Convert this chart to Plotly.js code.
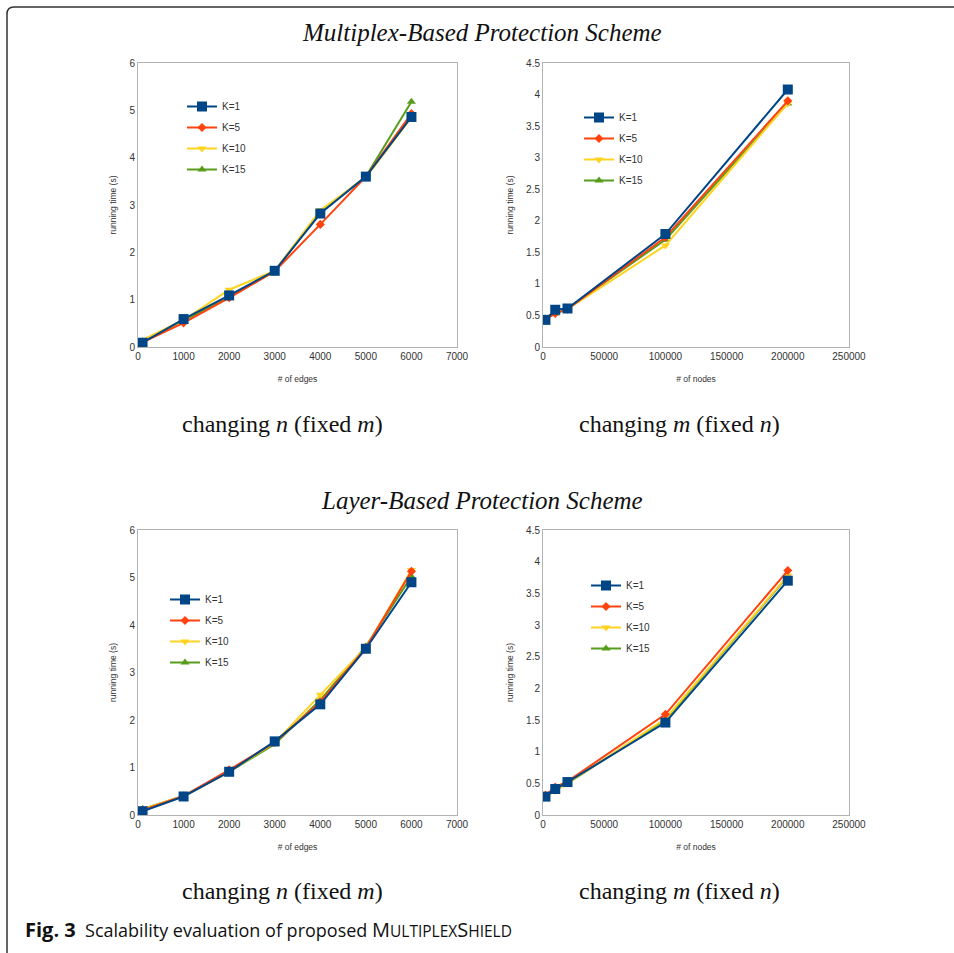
<!DOCTYPE html>
<html>
<head>
<meta charset="utf-8">
<script src="https://cdn.plot.ly/plotly-3.0.1.min.js"></script>
<style>html,body{margin:0;padding:0;background:#fff;}#chart{width:954px;height:953px;}</style>
</head>
<body>
<div id="chart"></div>
<script>
// ---------- data ----------
const seriesNames = ["K=1", "K=5", "K=10", "K=15"];
const edgesX = [100, 1000, 2000, 3000, 4000, 5000, 6000];
const nodesX = [2000, 10000, 20000, 100000, 200000];

// Multiplex-based, changing n (x = # of edges)
const mpEdgesK1  = [0.09, 0.59, 1.09, 1.61, 2.82, 3.60, 4.86];
const mpEdgesK5  = [0.10, 0.51, 1.04, 1.60, 2.59, 3.60, 4.93];
const mpEdgesK10 = [0.15, 0.57, 1.21, 1.61, 2.89, 3.58, 4.85];
const mpEdgesK15 = [0.12, 0.56, 1.05, 1.60, 2.85, 3.60, 5.18];

// Multiplex-based, changing m (x = # of nodes)
const mpNodesK1  = [0.43, 0.59, 0.61, 1.79, 4.08];
const mpNodesK5  = [0.44, 0.53, 0.60, 1.74, 3.90];
const mpNodesK10 = [0.47, 0.55, 0.60, 1.61, 3.86];
const mpNodesK15 = [0.45, 0.53, 0.61, 1.70, 3.86];

// Layer-based, changing n
const lbEdgesK1  = [0.08, 0.39, 0.91, 1.55, 2.33, 3.50, 4.90];
const lbEdgesK5  = [0.10, 0.40, 0.95, 1.53, 2.38, 3.52, 5.13];
const lbEdgesK10 = [0.12, 0.40, 0.92, 1.52, 2.53, 3.52, 5.16];
const lbEdgesK15 = [0.13, 0.40, 0.91, 1.49, 2.42, 3.55, 5.02];

// Layer-based, changing m
const lbNodesK1  = [0.29, 0.41, 0.52, 1.46, 3.70];
const lbNodesK5  = [0.31, 0.44, 0.53, 1.59, 3.86];
const lbNodesK10 = [0.29, 0.38, 0.50, 1.52, 3.78];
const lbNodesK15 = [0.30, 0.39, 0.50, 1.50, 3.77];

// ---------- styles ----------
const colors  = ["#004586", "#ff420e", "#ffd320", "#579d1c"];
const symbols = ["square", "diamond", "triangle-down", "triangle-up"];
const msizes  = [10, 7, 8, 8];

const panels = [
  {x: edgesX, ys: [mpEdgesK1, mpEdgesK5, mpEdgesK10, mpEdgesK15], xa: "x",  ya: "y",  lg: "legend"},
  {x: nodesX, ys: [mpNodesK1, mpNodesK5, mpNodesK10, mpNodesK15], xa: "x2", ya: "y2", lg: "legend2"},
  {x: edgesX, ys: [lbEdgesK1, lbEdgesK5, lbEdgesK10, lbEdgesK15], xa: "x3", ya: "y3", lg: "legend3"},
  {x: nodesX, ys: [lbNodesK1, lbNodesK5, lbNodesK10, lbNodesK15], xa: "x4", ya: "y4", lg: "legend4"}
];

const traces = [];
panels.forEach(p => {
  [3, 2, 1, 0].forEach(i => {
    traces.push({
      type: "scatter", mode: "lines+markers",
      x: p.x, y: p.ys[i], name: seriesNames[i],
      xaxis: p.xa, yaxis: p.ya, legend: p.lg,
      legendrank: i + 1, legendgroup: p.lg + "g" + i,
      line: {color: colors[i], width: 2},
      marker: {color: colors[i], symbol: symbols[i], size: msizes[i]},
      hoverinfo: "x+y"
    });
  });
});

const sans = "Liberation Sans, Arial, sans-serif";
const tickFont = {family: sans, size: 10, color: "#333"};
const titleFont = {family: sans, size: 8.5, color: "#333"};

function xAx(domain, range, dtick, title, anchor) {
  return {domain: domain, range: range, dtick: dtick, tick0: 0, anchor: anchor,
    showline: true, mirror: true, linecolor: "#b3b3b3", linewidth: 1,
    showgrid: false, zeroline: false, ticks: "", tickformat: "d",
    tickfont: tickFont, title: {text: title, font: titleFont, standoff: 15}, automargin: false};
}
function yAx(domain, range, dtick, anchor) {
  return {domain: domain, range: range, dtick: dtick, tick0: 0, anchor: anchor,
    showline: true, mirror: true, linecolor: "#b3b3b3", linewidth: 1,
    showgrid: false, zeroline: false, ticks: "",
    tickfont: tickFont, title: {text: "running time (s)", font: titleFont, standoff: 11}, automargin: false};
}

const W = 954, H = 953;
const px = v => v / W;
const py = v => 1 - v / H;

const dL = [px(138), px(457)], dR = [px(543), px(849)];
const dT = [py(347), py(63)], dB = [py(815), py(530)];

function legendAt(xp, yp) {
  return {x: px(xp), y: py(yp), xanchor: "left", yanchor: "top",
    bgcolor: "rgba(0,0,0,0)", borderwidth: 0, font: {family: sans, size: 10, color: "#333"},
    traceorder: "grouped", tracegroupgap: 2, itemwidth: 30};
}

const serif = "Liberation Serif, Times New Roman, serif";
const annotations = [
  {text: "<i>Multiplex-Based Protection Scheme</i>", x: px(482), y: py(33), font: {family: serif, size: 25, color: "#111"}},
  {text: "changing <i>n</i> (fixed <i>m</i>)", x: px(282), y: py(424)},
  {text: "changing <i>m</i> (fixed <i>n</i>)", x: px(679), y: py(424)},
  {text: "<i>Layer-Based Protection Scheme</i>", x: px(482), y: py(500), font: {family: serif, size: 25, color: "#111"}},
  {text: "changing <i>n</i> (fixed <i>m</i>)", x: px(282), y: py(891)},
  {text: "changing <i>m</i> (fixed <i>n</i>)", x: px(679), y: py(891)}
].map(a => Object.assign({xref: "paper", yref: "paper", xanchor: "center", yanchor: "middle",
  showarrow: false, font: {family: serif, size: 24, color: "#111"}}, a));

annotations.push({
  text: "<span style=\"font-size:20px\"><b>Fig. 3</b></span>  Scalability evaluation of proposed <span style=\"font-size:20px\">M</span><span style=\"font-size:15.5px\">ULTIPLEX</span><span style=\"font-size:20px\">S</span><span style=\"font-size:15.5px\">HIELD</span>",
  x: px(23), y: py(929), xref: "paper", yref: "paper", xanchor: "left", yanchor: "middle",
  showarrow: false, font: {family: "Open Sans, Noto Sans, sans-serif", size: 18, color: "#111"}
});

const layout = {
  width: W, height: H,
  margin: {l: 0, r: 0, t: 0, b: 0},
  paper_bgcolor: "#fff", plot_bgcolor: "#fff",
  showlegend: true,
  xaxis:  xAx(dL, [0, 7000], 1000, "# of edges", "y"),
  yaxis:  yAx(dT, [0, 6], 1, "x"),
  xaxis2: xAx(dR, [0, 250000], 50000, "# of nodes", "y2"),
  yaxis2: yAx(dT, [0, 4.5], 0.5, "x2"),
  xaxis3: xAx(dL, [0, 7000], 1000, "# of edges", "y3"),
  yaxis3: yAx(dB, [0, 6], 1, "x3"),
  xaxis4: xAx(dR, [0, 250000], 50000, "# of nodes", "y4"),
  yaxis4: yAx(dB, [0, 4.5], 0.5, "x4"),
  legend:  legendAt(182, 92),
  legend2: legendAt(579, 103),
  legend3: legendAt(165, 585),
  legend4: legendAt(586, 571),
  annotations: annotations,
  shapes: [{
    type: "path", xref: "paper", yref: "paper", layer: "above",
    path: "M " + px(7) + " " + py(953) + " L " + px(7) + " " + py(14) +
          " Q " + px(7) + " " + py(7) + " " + px(14) + " " + py(7) + " L " + px(954) + " " + py(7),
    line: {color: "#333", width: 1.5}
  }]
};

Plotly.newPlot("chart", traces, layout, {displayModeBar: false, responsive: false});
</script>
</body>
</html>
